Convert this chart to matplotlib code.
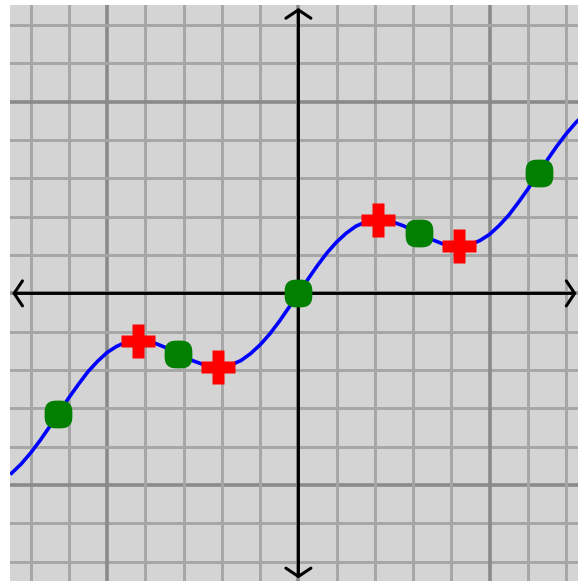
import matplotlib
matplotlib.use('Agg')
import matplotlib.pyplot as plt
import numpy as np
from matplotlib.path import Path

# точки кривой (1 клетка = 1 единица)
curve_x = [-7.5, -7.25, -7.0, -6.75, -6.5, -6.25, -6.0, -5.75, -5.5, -5.25,
           -5.0, -4.75, -4.5, -4.25, -4.0, -3.75, -3.5, -3.25, -3.0, -2.75,
           -2.5, -2.25, -2.0, -1.75, -1.5, -1.25, -1.0, -0.75, -0.5, -0.25,
           0.0, 0.25, 0.5, 0.75, 1.0, 1.25, 1.5, 1.75, 2.0, 2.25,
           2.5, 2.75, 3.0, 3.25, 3.5, 3.75, 4.0, 4.25, 4.5, 4.75,
           5.0, 5.25, 5.5, 5.75, 6.0, 6.25, 6.5, 6.75, 7.0, 7.25, 7.5]
curve_y = [-4.69, -4.45, -4.16, -3.83, -3.47, -3.09, -2.72, -2.37, -2.04, -1.77,
           -1.54, -1.38, -1.27, -1.23, -1.24, -1.30, -1.40, -1.52, -1.64, -1.76,
           -1.85, -1.90, -1.91, -1.86, -1.75, -1.57, -1.34, -1.06, -0.73, -0.37,
           0.0, 0.37, 0.73, 1.06, 1.34, 1.57, 1.75, 1.86, 1.91, 1.90,
           1.85, 1.76, 1.64, 1.52, 1.40, 1.30, 1.24, 1.23, 1.27, 1.38,
           1.54, 1.77, 2.04, 2.37, 2.72, 3.09, 3.47, 3.83, 4.16, 4.45, 4.69]

# экстремумы (красные кресты)
extr_x = [-4.19, -2.09, 2.09, 4.19]
extr_y = [-1.23, -1.91, 1.91, 1.23]

# точки перегиба (зелёные точки)
infl_x = [-6.28, -3.14, 0.0, 3.14, 6.28]
infl_y = [-3.14, -1.57, 0.0, 1.57, 3.14]


# маркер - квадрат со скруглёнными углами (суперэллипс)
def rounded_square(n=3, k=64):
    t = np.linspace(0, 2 * np.pi, k)
    c, s = np.cos(t), np.sin(t)
    x = np.sign(c) * np.abs(c) ** (2 / n)
    y = np.sign(s) * np.abs(s) ** (2 / n)
    return Path(np.column_stack([x, y]), closed=True)


fig = plt.figure(figsize=(5.78, 5.81), dpi=100)
ax = fig.add_axes([10 / 578, 0, 568 / 578, 576 / 581])
ax.set_facecolor('#d4d4d4')
ax.set_xlim(-7.54, 7.31)
ax.set_ylim(-7.50, 7.52)

# сетка
for v in range(-7, 8):
    c, w = ('#8a8a8a', 2.6) if v % 5 == 0 else ('#a6a6a6', 2.1)
    ax.axvline(v, color=c, lw=w, zorder=1)
    ax.axhline(v, color=c, lw=w, zorder=1)

# оси со стрелками
arrow = dict(arrowstyle='<->,head_length=0.6,head_width=0.9', lw=2.2,
             color='black', shrinkA=0, shrinkB=0)
ax.annotate('', xy=(-7.48, 0), xytext=(7.27, 0), arrowprops=arrow, zorder=2)
ax.annotate('', xy=(0, -7.43), xytext=(0, 7.44), arrowprops=arrow, zorder=2)

ax.plot(curve_x, curve_y, color='#0000ff', lw=2.6, zorder=3)
ax.plot(extr_x, extr_y, 'P', color='#ff0000', ms=25, mec='none', zorder=4)
ax.plot(infl_x, infl_y, marker=rounded_square(), ls='none', color='#007f00',
        ms=20, mec='none', zorder=4)

ax.set_xticks([])
ax.set_yticks([])
for s in ax.spines.values():
    s.set_visible(False)

fig.savefig('out.png', dpi=100)
